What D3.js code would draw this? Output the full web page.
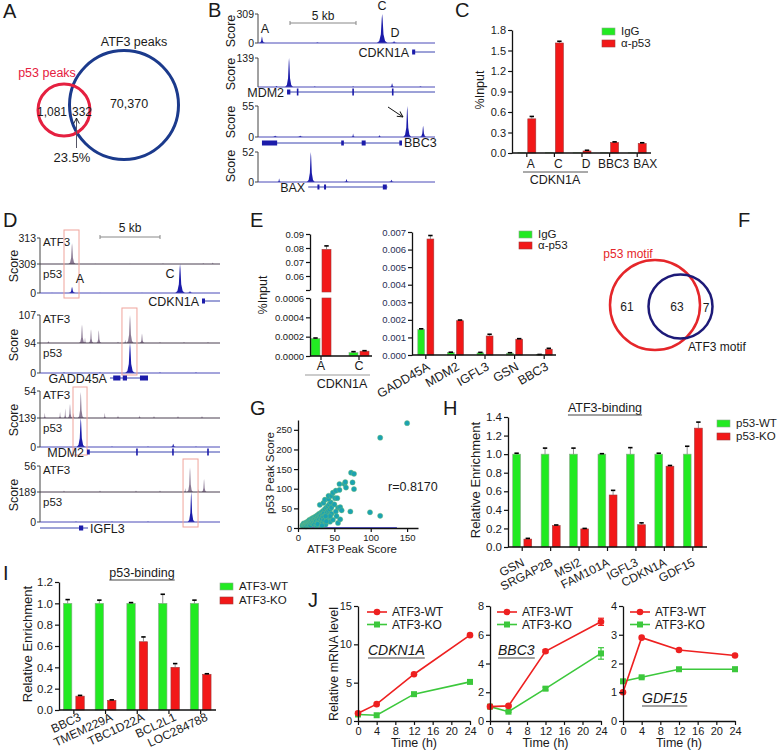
<!DOCTYPE html>
<html>
<head>
<meta charset="utf-8">
<script src="https://cdn.jsdelivr.net/npm/d3@7"></script>
<style>
body { margin: 0; background: #fff; }
svg { display: block; font-family: "Liberation Sans", Arial, sans-serif; }
</style>
</head>
<body>
<svg id="fig" width="778" height="753"></svg>
<script>
var FONT = "Liberation Sans, Arial, sans-serif";
var GREEN = "#22ea22", RED = "#f21818", BLUE = "#1c1caa", MAUVE = "#8b7a94";
var LGREEN = "#3cc83c", LRED = "#ee2020";

// ---------- data ----------
var vennACounts = ["1,081", "332", "70,370"];
var vennAPercent = "23.5%";
var vennFCounts = ["61", "63", "7"];

// genome tracks: peaks are [position kb, score, half width kb]
var bGenes = ["CDKN1A", "MDM2", "BBC3", "BAX"];
var bMax = [309, 139, 55, 52];
var bPeaks = [
    [[0.3, 68, 0.25], [4.5, 5, 0.2], [9.4, 309, 0.4], [10.3, 20, 0.25]],
    [[1.4, 5, 0.2], [2.35, 139, 0.3], [4.3, 3, 0.15], [7.2, 3, 0.15], [10.15, 18, 0.2], [12.3, 3, 0.2]],
    [[1.3, 2, 0.4], [3.2, 2, 0.4], [7.2, 6, 0.15], [9.2, 3, 0.2], [11.3, 55, 0.3], [12.5, 20, 0.25]],
    [[1.6, 6, 0.15], [4.0, 52, 0.3], [6.7, 5, 0.2], [10.1, 4, 0.2]]
];
var bGeneLines = [[11.67, 13.4], [2.2, 13.4], [0.3, 10.9], [3.8, 9.8]];
var bGeneExons = [[[11.67, 11.9]], [[2.2, 2.45]], [[0.3, 1.45], [6.3, 6.5], [7.85, 8.15], [10.7, 10.9]], [[4.5, 4.65], [5.0, 5.15], [9.45, 9.75]]];
var bGeneTicks = [[], [3.0, 7.2, 10.2], [], []];

var dGenes = ["CDKN1A", "GADD45A", "MDM2", "IGFL3"];
var dAtf3Max = [313, 107, 54, 56];
var dP53Max = [309, 94, 139, 189];
var dAtf3Peaks = [
    [[2.67, 250, 0.3], [4.6, 4], [7.5, 3], [10.25, 8], [13.6, 12], [14.4, 18]],
    [[0.7, 8], [3.5, 71, 0.25], [3.75, 20], [4.25, 53, 0.2], [4.9, 49, 0.2], [6.5, 5], [7.1, 12], [7.5, 107, 0.3], [8.5, 36, 0.2], [10, 4], [12, 4], [14, 4]],
    [[0.4, 10], [1.67, 12], [2.1, 19], [2.5, 28, 0.2], [2.8, 10], [3.4, 52, 0.25], [5.4, 10], [6.5, 5], [8.3, 5], [9.5, 4], [11.5, 4], [13.5, 4]],
    [[2, 3], [5, 3], [8, 3], [10, 3], [12.1, 8], [12.5, 53, 0.25], [13.2, 6], [13.67, 28, 0.2]]
];
var dP53Peaks = [
    [[1.0, 3], [2.67, 65, 0.3], [5.0, 3], [8.5, 3], [11.67, 309, 0.4], [12.5, 20, 0.25]],
    [[2, 3], [5, 3], [7.5, 94, 0.4], [10, 3], [13, 3]],
    [[3.4, 139, 0.35], [6, 3], [9, 3], [11.1, 15, 0.25], [13, 3]],
    [[3, 3], [6, 3], [9, 3], [12.6, 189, 0.3]]
];
var dHighlights = [[2.0, 3.25], [6.83, 8.08], [2.75, 3.92], [11.92, 13.17]];
var dGeneLines = [[13.5, 15], [5.83, 9.0], [3.92, 15], [0, 4.0]];
var dGeneExons = [[[13.5, 13.75]], [[6.1, 6.7], [6.9, 7.25], [8.33, 9.0]], [[3.92, 4.15]], [[3.25, 3.6]]];
var dGeneTicks = [[], [], [8.08, 11.08, 14.0], []];

var cCats = ["A", "C", "D", "BBC3", "BAX"];
var cIgG = [0.004, 0.004, 0.003, 0.003, 0.003];
var cP53 = [0.50, 1.61, 0.03, 0.155, 0.14];
var cP53Err = [0.035, 0.025, 0.01, 0.008, 0.01];

var eLeftCats = ["A", "C"];
var eLeftIgG = [0.00018, 0.000035];
var eLeftIgGErr = [0.000006, 0.00001];
var eLeftP53 = [0.079, 0.00005];
var eLeftP53Err = [0.0025, 0.000005];
var eRightCats = ["GADD45A", "MDM2", "IGFL3", "GSN", "BBC3"];
var eRightIgG = [0.00145, 0.00015, 0.00012, 0.0001, 0.00002];
var eRightIgGErr = [0.00004, 0.00001, 0.00003, 0.00003, 0.00001];
var eRightP53 = [0.0066, 0.00195, 0.00108, 0.0009, 0.00033];
var eRightP53Err = [0.0002, 0.00004, 0.0001, 0.00003, 0.00005];

var gPoints = [
    [6, 6], [7, 9], [8, 5], [8, 12], [9, 8], [10, 10], [10, 6], [11, 13], [11, 4], [12, 9], [12, 15], [13, 11], [13, 6],
    [14, 16], [14, 9], [15, 13], [15, 19], [16, 11], [16, 21], [17, 15], [17, 7], [18, 20], [18, 13], [19, 17], [19, 24],
    [20, 12], [20, 19], [21, 26], [21, 15], [22, 22], [22, 9], [23, 28], [23, 17], [24, 23], [24, 12], [25, 30], [25, 19],
    [26, 25], [26, 6], [27, 33], [27, 21], [28, 27], [28, 14], [29, 36], [29, 23], [30, 30], [30, 10], [31, 38], [31, 26],
    [32, 32], [32, 17], [33, 41], [33, 23], [34, 35], [34, 12], [35, 44], [35, 28], [36, 38], [36, 20], [37, 48], [38, 32],
    [38, 9], [39, 52], [40, 40], [40, 22], [41, 56], [42, 44], [42, 28], [43, 60], [44, 47], [44, 16], [45, 65], [46, 36],
    [46, 52], [30, 59], [35, 64], [37, 72], [42, 74], [42, 82], [46, 82], [51, 76], [54, 76], [48, 90], [52, 95], [57, 97],
    [57, 112], [64, 112], [65, 117], [75, 116], [77, 99], [73, 141], [77, 138], [66, 103], [55, 51], [58, 53], [52, 42],
    [53, 30], [48, 21], [39, 17], [44, 30], [38, 30], [55, 13], [58, 22], [72, 42], [99, 40], [113, 31], [113, 230],
    [150, 267], [50, 60], [60, 45], [27, 10], [33, 6]
];
var gR = "r=0.8170";

var hCats = ["GSN", "SRGAP2B", "MSI2", "FAM101A", "IGFL3", "CDKN1A", "GDF15"];
var hWT = [1, 1, 1, 1, 1, 1, 1];
var hWTErr = [0.01, 0.065, 0.065, 0.005, 0.07, 0.01, 0.085];
var hKO = [0.085, 0.23, 0.195, 0.56, 0.24, 0.87, 1.28];
var hKOErr = [0.008, 0.007, 0.005, 0.05, 0.02, 0.008, 0.065];

var iCats = ["BBC3", "TMEM229A", "TBC1D22A", "BCL2L1", "LOC284788"];
var iWT = [1, 1, 1, 1, 1];
var iWTErr = [0.035, 0.03, 0.007, 0.085, 0.03];
var iKO = [0.13, 0.09, 0.64, 0.40, 0.335];
var iKOErr = [0.007, 0.005, 0.045, 0.035, 0.005];

var jHours = [0, 4, 12, 24];
var jCdkn1aWT = [1.0, 2.2, 6.1, 11.2];
var jCdkn1aKO = [0.85, 0.75, 3.5, 5.1];
var jBbc3WT = [1.0, 1.05, 4.85, 6.9];
var jBbc3WTErr = [0.05, 0.05, 0.1, 0.25];
var jBbc3KO = [1.0, 0.65, 2.25, 4.7];
var jBbc3KOErr = [0.05, 0.05, 0.1, 0.4];
var jGdf15WT = [1.0, 2.9, 2.47, 2.28];
var jGdf15KO = [1.38, 1.52, 1.8, 1.8];
var jGdf15KOErr = [0.03, 0.03, 0.04, 0.07];

// ---------- helpers ----------
var svg = d3.select("#fig");

var defs = svg.append("defs");
defs.append("marker").attr("id", "arr").attr("viewBox", "0 0 10 10")
    .attr("refX", 9).attr("refY", 5).attr("markerWidth", 7).attr("markerHeight", 7)
    .attr("orient", "auto").attr("markerUnits", "userSpaceOnUse")
    .append("path").attr("d", "M1,1 L9,5 L1,9").attr("fill", "none")
    .attr("stroke", "#111").attr("stroke-width", 1.3);

function txt(x, y, s, size, opts) {
    opts = opts || {};
    var t = svg.append("text").attr("x", x).attr("y", y).text(s)
        .attr("font-size", size).attr("fill", opts.fill || "#1a1a1a")
        .attr("text-anchor", opts.anchor || "start");
    if (opts.italic) t.attr("font-style", "italic");
    return t;
}
function vtxt(x, y, s, size) {
    return svg.append("text").attr("transform", "translate(" + x + "," + y + ") rotate(-90)")
        .attr("text-anchor", "middle").attr("font-size", size).attr("fill", "#1a1a1a").text(s);
}
function rtxt(x, y, s, size, angle) {
    return svg.append("text").attr("transform", "translate(" + x + "," + y + ") rotate(" + angle + ")")
        .attr("text-anchor", "end").attr("font-size", size).attr("fill", "#1a1a1a").text(s);
}
function hline(x1, x2, y, stroke, w) {
    return svg.append("line").attr("x1", x1).attr("x2", x2).attr("y1", y).attr("y2", y)
        .attr("stroke", stroke).attr("stroke-width", w || 1);
}
function vline(x, y1, y2, stroke, w) {
    return svg.append("line").attr("x1", x).attr("x2", x).attr("y1", y1).attr("y2", y2)
        .attr("stroke", stroke).attr("stroke-width", w || 1);
}
function underline(t, off) {
    var bb = t.node().getBBox();
    hline(bb.x, bb.x + bb.width, +t.attr("y") + off, "#444", 1);
}
function panel(letter, x, y) {
    txt(x, y, letter, 20);
}

function peakShape(p) {
    var c = p[0], h = p[1], w = p[2] || 0.12;
    return [[c - w, 0], [c - w * 0.55, h * 0.07], [c - w * 0.25, h * 0.3], [c - w * 0.08, h * 0.85], [c, h],
        [c + w * 0.08, h * 0.85], [c + w * 0.25, h * 0.3], [c + w * 0.55, h * 0.07], [c + w, 0]];
}
function drawTrack(x, yTop, yBase, max, peaks, fill, baseStroke) {
    var y = d3.scaleLinear().domain([0, max]).range([yBase, yTop]);
    var area = d3.area().x(function(d) { return x(d[0]); }).y0(yBase).y1(function(d) { return y(d[1]); });
    svg.append("g").selectAll("path").data(peaks).enter().append("path")
        .attr("d", function(p) { return area(peakShape(p)); })
        .attr("fill", fill);
    hline(x.range()[0], x.range()[1], yBase, baseStroke, 1);
}
function trackAxis(x0, yTop, yBase, labels) {
    vline(x0, yTop, yBase, "#444", 1);
    labels.forEach(function(l) {
        hline(x0 - 3, x0, l[0], "#444", 1);
        txt(x0 - 4, l[0] + 3.5, l[1], 10.5, {anchor: "end"});
    });
}
function drawGene(x, y, line, exons, ticks) {
    hline(x(line[0]), x(line[1]), y, "#3b45b0", 1);
    svg.append("g").selectAll("rect").data(exons).enter().append("rect")
        .attr("x", function(d) { return x(d[0]); }).attr("y", y - 2.5)
        .attr("width", function(d) { return Math.max(2, x(d[1]) - x(d[0])); }).attr("height", 5)
        .attr("fill", BLUE);
    svg.append("g").selectAll("rect").data(ticks).enter().append("rect")
        .attr("x", function(d) { return x(d) - 0.8; }).attr("y", y - 3.5)
        .attr("width", 1.6).attr("height", 7).attr("fill", BLUE);
}
function scaleBar(x1, x2, y, label, ty) {
    hline(x1, x2, y, "#888", 1);
    vline(x1, y - 2, y + 2, "#888", 1);
    vline(x2, y - 2, y + 2, "#888", 1);
    txt((x1 + x2) / 2, ty, label, 12, {anchor: "middle"});
}

function leftAxis(x, y, ticks, fmt, size) {
    var g = svg.append("g").attr("transform", "translate(" + x + ",0)")
        .call(d3.axisLeft(y).tickValues(ticks).tickFormat(fmt).tickSize(4).tickSizeOuter(0).tickPadding(2));
    g.attr("font-family", FONT).attr("font-size", size);
    g.select(".domain").attr("stroke", "#111").attr("stroke-width", 1.3);
    g.selectAll(".tick line").attr("stroke", "#111").attr("stroke-width", 1.2);
    g.selectAll(".tick text").attr("fill", "#1a1a1a");
    return g;
}
function bottomAxis(y, x, ticks, fmt, size) {
    var g = svg.append("g").attr("transform", "translate(0," + y + ")")
        .call(d3.axisBottom(x).tickValues(ticks).tickFormat(fmt).tickSize(4).tickSizeOuter(0).tickPadding(2));
    g.attr("font-family", FONT).attr("font-size", size);
    g.select(".domain").attr("stroke", "#111").attr("stroke-width", 1.3);
    g.selectAll(".tick line").attr("stroke", "#111").attr("stroke-width", 1.2);
    g.selectAll(".tick text").attr("fill", "#1a1a1a");
    return g;
}
function center(xs, c) { return xs(c) + xs.bandwidth() / 2; }
function catAxis(xs, y, x0, x1) {
    hline(x0, x1, y, "#111", 1.3);
    xs.domain().forEach(function(c) { vline(center(xs, c), y, y + 4, "#111", 1.2); });
}
function bars(xs, y, cats, vals, errs, side, bw, gap, fill, stroke) {
    var left = function(c) { var m = center(xs, c); return side < 0 ? m - gap - bw : m + gap; };
    var g = svg.append("g");
    g.selectAll("rect").data(cats).enter().append("rect")
        .attr("x", function(c) { return left(c); })
        .attr("y", function(c, i) { return y(vals[i]); })
        .attr("width", bw)
        .attr("height", function(c, i) { return y(0) - y(vals[i]); })
        .attr("fill", fill).attr("stroke", stroke).attr("stroke-width", 0.6);
    if (errs) {
        cats.forEach(function(c, i) {
            var m = left(c) + bw / 2, e = y(vals[i] + errs[i]);
            vline(m, y(vals[i]), e, "#777", 0.8);
            hline(m - 2.2, m + 2.2, e, "#000", 1.6);
        });
    }
}
function legendBox(x, y, fill, stroke, label, size) {
    svg.append("rect").attr("x", x).attr("y", y).attr("width", 13).attr("height", 7)
        .attr("fill", fill).attr("stroke", stroke).attr("stroke-width", 0.6);
    txt(x + 19, y + 7, label, size);
}

// ---------- A ----------
panel("A", 3, 18);
svg.append("circle").attr("cx", 124).attr("cy", 105).attr("r", 54.5)
    .attr("fill", "none").attr("stroke", "#1b3a8c").attr("stroke-width", 3);
svg.append("circle").attr("cx", 64).attr("cy", 110).attr("r", 26)
    .attr("fill", "none").attr("stroke", "#e52040").attr("stroke-width", 3);
txt(134, 46, "ATF3 peaks", 12.5, {anchor: "middle"});
txt(47, 77, "p53 peaks", 12.5, {anchor: "middle", fill: "#e52040"});
txt(52, 116, vennACounts[0], 12, {anchor: "middle"});
txt(82, 116, vennACounts[1], 12, {anchor: "middle"});
txt(129, 108, vennACounts[2], 12.5, {anchor: "middle"});
svg.append("line").attr("x1", 76.5).attr("y1", 148).attr("x2", 76.5).attr("y2", 118)
    .attr("stroke", "#556").attr("stroke-width", 1).attr("marker-end", "url(#arr)");
txt(72, 162, vennAPercent, 13, {anchor: "middle"});

// ---------- B ----------
panel("B", 208, 17);
var bx = d3.scaleLinear().domain([0, 13.4]).range([258, 435]);
var bLay = [
    {top: 14, base: 43, gene: 52, score: 31},
    {top: 58, base: 87, gene: 92, score: 74},
    {top: 106, base: 137, gene: 143, score: 122},
    {top: 152, base: 182, gene: 187, score: 166}
];
bGenes.forEach(function(gname, i) {
    var L = bLay[i];
    drawTrack(bx, L.top, L.base, bMax[i], bPeaks[i], BLUE, "#4a4ab8");
    var labs = [[L.top, bMax[i]]];
    if (i !== 1) labs.push([L.base, "0"]);
    trackAxis(258, L.top, L.base, labs);
    vtxt(235, L.score, "Score", 12.5);
    drawGene(bx, L.gene, bGeneLines[i], bGeneExons[i], bGeneTicks[i]);
    if (gname === "BBC3") txt(bx(bGeneLines[i][1]) + 2, L.gene + 4, gname, 12.5);
    else txt(bx(bGeneLines[i][0]) - 3, L.gene + 4.5, gname, 12.5, {anchor: "end"});
});
scaleBar(290, 356, 23, "5 kb", 20);
txt(265, 33, "A", 12.5, {anchor: "middle"});
txt(382, 10, "C", 12.5, {anchor: "middle"});
txt(395, 37, "D", 12.5, {anchor: "middle"});
svg.append("line").attr("x1", 388).attr("y1", 107).attr("x2", 403).attr("y2", 117)
    .attr("stroke", "#111").attr("stroke-width", 1).attr("marker-end", "url(#arr)");

// ---------- C ----------
panel("C", 455, 17);
var cxs = d3.scaleBand().domain(cCats).range([513, 651]);
var cy = d3.scaleLinear().domain([0, 1.8]).range([153, 30]);
bars(cxs, cy, cCats, cIgG, null, -1, 8, 1, GREEN, "#8aa88a");
bars(cxs, cy, cCats, cP53, cP53Err, 1, 8, 1, RED, "#a03a3a");
leftAxis(512, cy, [0, 0.3, 0.6, 0.9, 1.2, 1.5, 1.8], d3.format(".1f"), 11);
catAxis(cxs, 153, 512, 651);
cCats.forEach(function(c, i) { txt(center(cxs, c) + 4 + (i > 3 ? 4 : 0), 168, c, 12, {anchor: "middle"}); });
hline(523, 588, 172, "#555", 1);
txt(555, 184, "CDKN1A", 12.5, {anchor: "middle"});
vtxt(484, 90, "%Input", 12.5);
legendBox(602, 28, GREEN, "#8aa88a", "IgG", 11.5);
legendBox(602, 40, RED, "#a03a3a", "\u03b1-p53", 11.5);

// ---------- D ----------
panel("D", 3, 227);
var dx = d3.scaleLinear().domain([0, 15]).range([40, 220]);
var dLay = [
    {top: 238, mid: 264, base: 293, gene: 301, score: 266, hl: [230, 298]},
    {top: 315, mid: 343, base: 373, gene: 378, score: 345, hl: [308, 375]},
    {top: 391, mid: 418, base: 447, gene: 452, score: 420, hl: [387, 455]},
    {top: 466, mid: 492, base: 522, gene: 528, score: 495, hl: [459, 527]}
];
dGenes.forEach(function(gname, i) {
    var L = dLay[i];
    drawTrack(dx, L.top, L.mid, dAtf3Max[i], dAtf3Peaks[i], MAUVE, "#4a3f50");
    drawTrack(dx, L.mid, L.base, dP53Max[i], dP53Peaks[i], BLUE, "#4a4ab8");
    trackAxis(40, L.top, L.base, [[L.top, dAtf3Max[i]], [L.mid, dP53Max[i]], [L.base, "0"]]);
    vtxt(18, L.score, "Score", 12.5);
    txt(43, L.top + 8, "ATF3", 11.5);
    txt(43, L.mid + 14, "p53", 11.5);
    var h = dHighlights[i];
    svg.append("rect").attr("x", dx(h[0])).attr("y", L.hl[0])
        .attr("width", dx(h[1]) - dx(h[0])).attr("height", L.hl[1] - L.hl[0])
        .attr("fill", "none").attr("stroke", "#f0a49c").attr("stroke-width", 1);
    drawGene(dx, L.gene, dGeneLines[i], dGeneExons[i], dGeneTicks[i]);
    if (gname === "IGFL3") txt(dx(dGeneLines[i][1]) + 2, L.gene + 4.5, gname, 12.5);
    else txt(dx(dGeneLines[i][0]) - 3, L.gene + 4.5, gname, 12.5, {anchor: "end"});
});
scaleBar(100, 160, 237, "5 kb", 232);
txt(80, 283, "A", 12.5, {anchor: "middle"});
txt(170, 278, "C", 12.5, {anchor: "middle"});

// ---------- E ----------
panel("E", 250, 227);
var exL = d3.scaleBand().domain(eLeftCats).range([302, 378]);
var eLow = d3.scaleLinear().domain([0, 0.0006]).range([356, 298]);
var eHigh = d3.scaleLinear().domain([0.05, 0.09]).range([290, 234]);
bars(exL, eLow, eLeftCats, eLeftIgG, eLeftIgGErr, -1, 9, 1, GREEN, "#8aa88a");
eLeftCats.forEach(function(c, i) {
    var x0 = center(exL, c) + 1;
    if (eLeftP53[i] > 0.0006) {
        svg.append("rect").attr("x", x0).attr("y", 298).attr("width", 9).attr("height", 58)
            .attr("fill", RED).attr("stroke", "#a03a3a").attr("stroke-width", 0.6);
        svg.append("rect").attr("x", x0).attr("y", eHigh(eLeftP53[i])).attr("width", 9)
            .attr("height", 292 - eHigh(eLeftP53[i]))
            .attr("fill", RED).attr("stroke", "#a03a3a").attr("stroke-width", 0.6);
        var e = eHigh(eLeftP53[i] + eLeftP53Err[i]);
        vline(x0 + 4.5, eHigh(eLeftP53[i]), e, "#777", 0.8);
        hline(x0 + 2.3, x0 + 6.7, e, "#000", 1.6);
    } else {
        bars(exL, eLow, [c], [eLeftP53[i]], [eLeftP53Err[i]], 1, 9, 1, RED, "#a03a3a");
    }
});
leftAxis(310, eLow, [0, 0.0002, 0.0004, 0.0006], d3.format(".4f"), 9.5);
leftAxis(310, eHigh, [0.05, 0.06, 0.07, 0.08, 0.09], function(d) { return d < 0.055 ? "" : d3.format(".2f")(d); }, 9.5);
catAxis(exL, 356, 310, 372);
eLeftCats.forEach(function(c) { txt(center(exL, c), 370, c, 12.5, {anchor: "middle"}); });
hline(305, 370, 375, "#999", 1.2);
txt(342, 388, "CDKN1A", 12.5, {anchor: "middle"});
vtxt(267, 295, "%Input", 12.5);

var exR = d3.scaleBand().domain(eRightCats).range([411, 559]);
var eyR = d3.scaleLinear().domain([0, 0.007]).range([355, 232]);
bars(exR, eyR, eRightCats, eRightIgG, eRightIgGErr, -1, 6.8, 1.2, GREEN, "#8aa88a");
bars(exR, eyR, eRightCats, eRightP53, eRightP53Err, 1, 6.8, 1.2, RED, "#a03a3a");
leftAxis(412, eyR, d3.range(0, 0.0075, 0.001), d3.format(".3f"), 9.5)
    .selectAll(".tick text").attr("fill", "#2a2f55");
catAxis(exR, 355, 412, 556);
eRightCats.forEach(function(c) { rtxt(center(exR, c) + 5, 369, c, 12.5, -30); });
legendBox(519, 231, GREEN, "#8aa88a", "IgG", 11.5);
legendBox(519, 242, RED, "#a03a3a", "\u03b1-p53", 11.5);

// ---------- F ----------
panel("F", 738, 227);
svg.append("circle").attr("cx", 655).attr("cy", 305).attr("r", 45)
    .attr("fill", "none").attr("stroke", "#e5262a").attr("stroke-width", 2.5);
svg.append("circle").attr("cx", 680.5).attr("cy", 306.5).attr("r", 32)
    .attr("fill", "none").attr("stroke", "#1d1a78").attr("stroke-width", 2.5);
txt(628, 258, "p53 motif", 12, {anchor: "middle", fill: "#e5262a"});
txt(627, 311, vennFCounts[0], 12, {anchor: "middle"});
txt(677, 311, vennFCounts[1], 12, {anchor: "middle"});
txt(706, 312, vennFCounts[2], 12, {anchor: "middle"});
txt(688, 351, "ATF3 motif", 12);

// ---------- G ----------
panel("G", 250, 415);
var gx = d3.scaleLinear().domain([0, 165]).range([298, 418]);
var gy = d3.scaleLinear().domain([0, 275]).range([528, 420]);
svg.append("line").attr("x1", gx(5)).attr("x2", gx(136)).attr("y1", gy(0)).attr("y2", gy(0))
    .attr("stroke", "#2a2ad0").attr("stroke-width", 1.4);
svg.append("g").selectAll("circle").data(gPoints).enter().append("circle")
    .attr("cx", function(d) { return gx(d[0]); })
    .attr("cy", function(d) { return gy(d[1]); })
    .attr("r", 2.6).attr("fill", "#1ba2b2").attr("stroke", "#7fbf6a").attr("stroke-width", 0.4);
leftAxis(298, gy, [0, 50, 100, 150, 200, 250], d3.format("d"), 9.5);
bottomAxis(528, gx, [0, 50, 100, 150], d3.format("d"), 9.5);
vtxt(274, 473, "p53 Peak Score", 11.5);
txt(352, 553, "ATF3 Peak Score", 11.5, {anchor: "middle"});
txt(388, 491, gR, 12.5);

// ---------- H ----------
panel("H", 443, 415);
var hx = d3.scaleBand().domain(hCats).range([508, 707]);
var hy = d3.scaleLinear().domain([0, 1.4]).range([547, 417]);
bars(hx, hy, hCats, hWT, hWTErr, -1, 7.8, 1.7, GREEN, "#8aa88a");
bars(hx, hy, hCats, hKO, hKOErr, 1, 7.8, 1.7, RED, "#a03a3a");
leftAxis(508, hy, [0, 0.2, 0.4, 0.6, 0.8, 1.0, 1.2, 1.4], d3.format(".1f"), 11.5);
catAxis(hx, 547, 508, 707);
hCats.forEach(function(c) { rtxt(center(hx, c) + 3, 565, c, 12, -27); });
var hT = txt(605, 412, "ATF3-binding", 12.5, {anchor: "middle"});
underline(hT, 3);
vtxt(480, 480, "Relative Enrichment", 13);
legendBox(717, 420, GREEN, "#8aa88a", "p53-WT", 11.5);
legendBox(717, 433, RED, "#a03a3a", "p53-KO", 11.5);

// ---------- I ----------
panel("I", 3, 580);
var ix = d3.scaleBand().domain(iCats).range([58, 216.5]);
var iy = d3.scaleLinear().domain([0, 1.2]).range([710, 582]);
bars(ix, iy, iCats, iWT, iWTErr, -1, 8.4, 2, GREEN, "#8aa88a");
bars(ix, iy, iCats, iKO, iKOErr, 1, 8.4, 2, RED, "#a03a3a");
leftAxis(59, iy, [0, 0.2, 0.4, 0.6, 0.8, 1.0, 1.2], d3.format(".1f"), 11.5);
catAxis(ix, 710, 59, 216);
iCats.forEach(function(c) { rtxt(center(ix, c) + 8, 720, c, 12, -25); });
var iT = txt(142, 577, "p53-binding", 12.5, {anchor: "middle"});
underline(iT, 3);
vtxt(32, 644, "Relative Enrichment", 13);
legendBox(220, 583, GREEN, "#8aa88a", "ATF3-WT", 11.5);
legendBox(220, 597, RED, "#a03a3a", "ATF3-KO", 11.5);

// ---------- J ----------
panel("J", 308, 607);
function jPlot(x0, x1, yMax, yTicks, wt, wtErr, ko, koErr, gene, gx0, gy0, legX) {
    var x = d3.scaleLinear().domain([0, 24]).range([x0, x1]);
    var y = d3.scaleLinear().domain([0, yMax]).range([721, 606]);
    var line = d3.line().x(function(d, i) { return x(jHours[i]); }).y(function(d) { return y(d); });
    [[ko, koErr, LGREEN, "sq"], [wt, wtErr, LRED, "ci"]].forEach(function(s) {
        svg.append("path").attr("d", line(s[0])).attr("fill", "none").attr("stroke", s[2]).attr("stroke-width", 1.6);
        if (s[1]) {
            s[0].forEach(function(v, i) {
                var xx = x(jHours[i]);
                vline(xx, y(v - s[1][i]), y(v + s[1][i]), s[2], 1.2);
                hline(xx - 3, xx + 3, y(v + s[1][i]), s[2], 1.2);
                hline(xx - 3, xx + 3, y(v - s[1][i]), s[2], 1.2);
            });
        }
        var g = svg.append("g").selectAll("*").data(s[0]).enter();
        if (s[3] === "ci") {
            g.append("circle").attr("cx", function(d, i) { return x(jHours[i]); })
                .attr("cy", function(d) { return y(d); }).attr("r", 3.3).attr("fill", s[2]);
        } else {
            g.append("rect").attr("x", function(d, i) { return x(jHours[i]) - 3; })
                .attr("y", function(d) { return y(d) - 3; }).attr("width", 6).attr("height", 6).attr("fill", s[2]);
        }
    });
    leftAxis(x0, y, yTicks, d3.format("d"), 11);
    bottomAxis(721, x, [0, 4, 8, 12, 16, 20, 24], d3.format("d"), 11);
    txt((x0 + x1) / 2, 747, "Time (h)", 12.5, {anchor: "middle"});
    var t = txt(gx0, gy0, gene, 14, {italic: true});
    underline(t, 3);
    // legend
    hline(legX, legX + 20, 612, LRED, 1.6);
    svg.append("circle").attr("cx", legX + 10).attr("cy", 612).attr("r", 3.3).attr("fill", LRED);
    txt(legX + 25, 616, "ATF3-WT", 12);
    hline(legX, legX + 20, 624.5, LGREEN, 1.6);
    svg.append("rect").attr("x", legX + 7).attr("y", 621.5).attr("width", 6).attr("height", 6).attr("fill", LGREEN);
    txt(legX + 25, 629, "ATF3-KO", 12);
}
jPlot(358, 470, 15, [0, 5, 10, 15], jCdkn1aWT, null, jCdkn1aKO, null, "CDKN1A", 368, 655, 367);
jPlot(490, 601, 8, [0, 2, 4, 6, 8], jBbc3WT, jBbc3WTErr, jBbc3KO, jBbc3KOErr, "BBC3", 498, 655, 497);
jPlot(623, 735, 4, [0, 1, 2, 3, 4], jGdf15WT, null, jGdf15KO, jGdf15KOErr, "GDF15", 642, 703, 630);
vtxt(338, 664, "Relative mRNA level", 12.5);
</script>
</body>
</html>
